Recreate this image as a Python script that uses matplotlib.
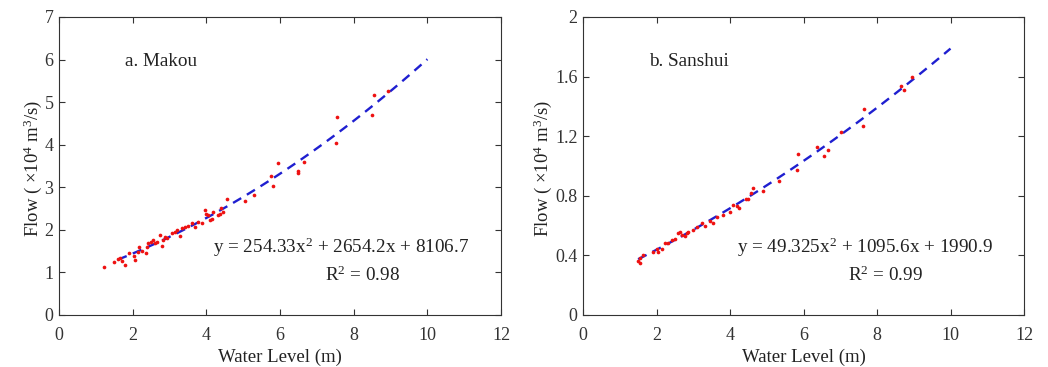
import numpy as np
import matplotlib
matplotlib.use('Agg')
import matplotlib.pyplot as plt

plt.rcParams['font.family'] = ['Liberation Serif', 'DejaVu Serif']
plt.rcParams['mathtext.fontset'] = 'custom'
plt.rcParams['mathtext.rm'] = 'Liberation Serif'
plt.rcParams['mathtext.it'] = 'Liberation Serif:italic'

# Makou station: water level (m) vs flow (x10^4 m3/s)
makou_level = [1.22, 1.49, 1.61, 1.66, 1.70, 1.79, 1.91, 2.04, 2.06, 2.15,
               2.17, 2.26, 2.35, 2.38, 2.42, 2.49, 2.56, 2.61, 2.65, 2.74,
               2.79, 2.83, 2.88, 2.92, 3.06, 3.15, 3.19, 3.28, 3.33, 3.42,
               3.51, 3.60, 3.69, 3.78, 3.87, 3.96, 4.00, 4.05, 4.10, 4.14,
               4.19, 4.32, 4.37, 4.41, 4.45, 4.57, 5.05, 5.30, 5.75, 5.80,
               5.94, 6.48, 6.49, 6.66, 7.51, 7.55, 8.51, 8.55, 8.92]
makou_flow = [1.12, 1.25, 1.32, 1.33, 1.28, 1.17, 1.45, 1.39, 1.29, 1.49,
              1.60, 1.50, 1.45, 1.60, 1.68, 1.72, 1.76, 1.68, 1.71, 1.88,
              1.63, 1.76, 1.84, 1.80, 1.92, 1.96, 2.00, 1.86, 2.04, 2.07,
              2.09, 2.15, 2.07, 2.19, 2.15, 2.47, 2.37, 2.35, 2.23, 2.26,
              2.43, 2.35, 2.37, 2.51, 2.43, 2.72, 2.68, 2.81, 3.27, 3.03,
              3.58, 3.38, 3.34, 3.59, 4.03, 4.64, 4.70, 5.17, 5.27]
makou_coef = [254.33, 2654.2, 8106.7]

# Sanshui station
sanshui_level = [1.51, 1.55, 1.55, 1.64, 1.91, 2.00, 2.05, 2.14, 2.23, 2.32,
                 2.41, 2.50, 2.59, 2.64, 2.69, 2.78, 2.82, 2.87, 3.00, 3.09,
                 3.23, 3.32, 3.46, 3.55, 3.64, 3.82, 4.00, 4.07, 4.18, 4.25,
                 4.44, 4.50, 4.56, 4.62, 4.91, 5.34, 5.81, 5.86, 6.36, 6.57,
                 6.68, 7.02, 7.63, 7.65, 8.65, 8.73, 8.95]
sanshui_flow = [0.36, 0.38, 0.35, 0.40, 0.42, 0.44, 0.42, 0.44, 0.48, 0.48,
                0.50, 0.51, 0.55, 0.56, 0.54, 0.53, 0.55, 0.56, 0.57, 0.59,
                0.62, 0.60, 0.63, 0.62, 0.66, 0.67, 0.69, 0.74, 0.73, 0.72,
                0.78, 0.78, 0.82, 0.85, 0.83, 0.90, 0.97, 1.08, 1.13, 1.07,
                1.11, 1.23, 1.27, 1.38, 1.54, 1.51, 1.60]
sanshui_coef = [49.325, 1095.6, 1990.9]

fig = plt.figure(figsize=(10.48, 3.67), dpi=100)
ax1 = fig.add_axes([0.0563, 0.1417, 0.4218, 0.812])
ax2 = fig.add_axes([0.5563, 0.1417, 0.4208, 0.812])

panels = [
    (ax1, makou_level, makou_flow, makou_coef, 1.6, 'a. Makou',
     r'y = 254.33x$^2$ + 2654.2x + 8106.7', r'R$^2$ = 0.98',
     (0, 7), np.arange(0, 8, 1), [str(v) for v in range(8)], -0.059),
    (ax2, sanshui_level, sanshui_flow, sanshui_coef, 1.5, 'b. Sanshui',
     r'y = 49.325x$^2$ + 1095.6x + 1990.9', r'R$^2$ = 0.99',
     (0, 2), np.arange(0, 2.01, 0.4), ['0', '0.4', '0.8', '1.2', '1.6', '2'],
     -0.092),
]

txt = '#222222'
for ax, lev, flow, coef, x0, title, eq, r2, ylim, yt, ytl, ylx in panels:
    # quadratic fit, coefficients in m3/s
    xs = np.linspace(x0, 10, 100)
    ax.plot(xs, np.polyval(coef, xs) / 1e4, color='#1f1fd0', lw=1.7,
            linestyle=(0, (4, 2.8)), zorder=2)
    ax.scatter(lev, flow, s=7, color='#ee1111', zorder=3, linewidths=0)

    ax.set_xlim(0, 12)
    ax.set_ylim(*ylim)
    ax.set_xticks(np.arange(0, 13, 2))
    ax.set_yticks(yt)
    ax.set_yticklabels(ytl)
    ax.tick_params(direction='in', top=True, right=True, length=4,
                   width=0.8, labelsize=13, colors='#333333')
    ax.tick_params(axis='x', pad=9)
    ax.tick_params(axis='y', pad=4)
    for sp in ax.spines.values():
        sp.set_color('#333333')
        sp.set_linewidth(0.8)

    ax.set_xlabel('Water Level (m)', fontsize=13.5, color=txt, va='center')
    ax.xaxis.set_label_coords(0.5, -0.141)
    ax.set_ylabel(r'Flow ( ×10$^4$ m$^3$/s)', fontsize=13.5, color=txt,
                  va='center')
    ax.yaxis.set_label_coords(ylx, 0.493)

    ax.text(0.149, 0.85, title, transform=ax.transAxes, fontsize=13.8,
            va='center', ha='left', color=txt)
    ax.text(0.349, 0.228, eq, transform=ax.transAxes, fontsize=13.8,
            va='center', ha='left', color=txt)
    ax.text(0.601, 0.134, r2, transform=ax.transAxes, fontsize=13.8,
            va='center', ha='left', color=txt)

fig.savefig('out.png', dpi=100)
